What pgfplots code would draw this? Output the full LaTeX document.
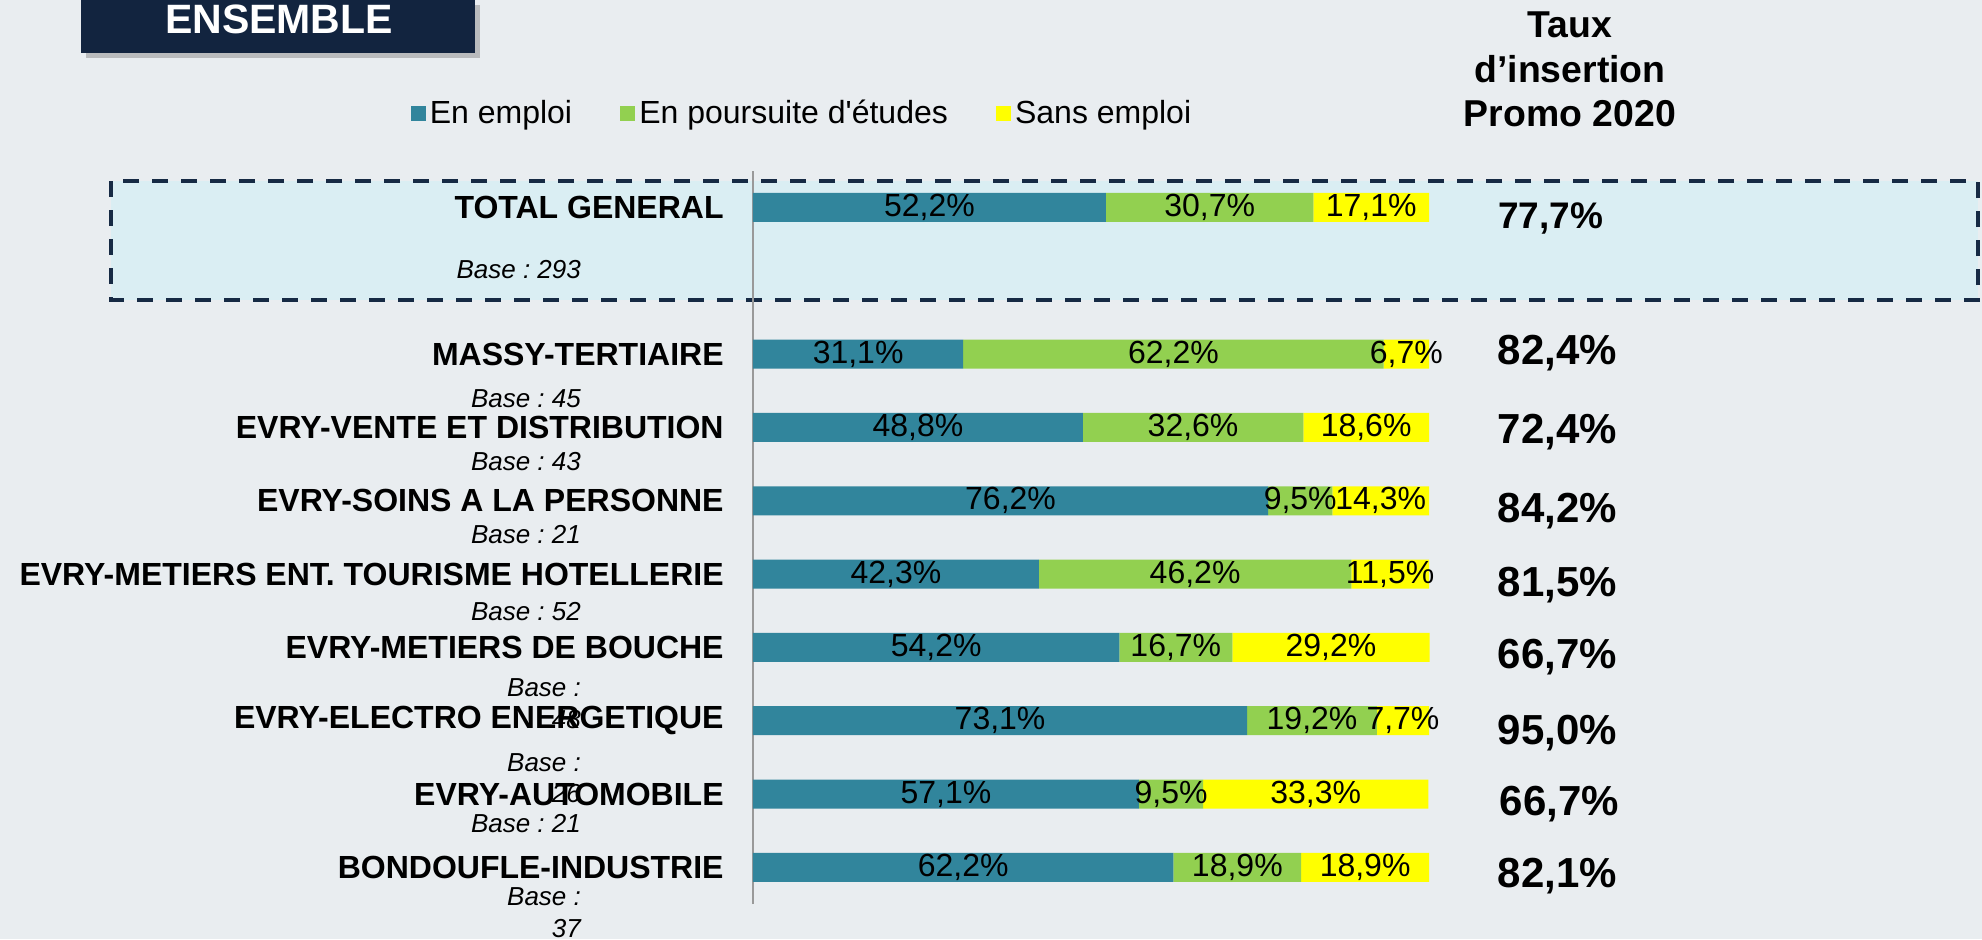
\documentclass[border=0pt]{standalone}
\usepackage{fontspec}
\setmainfont{Liberation Sans}
\usepackage{pgfplots}
\pgfplotsset{compat=1.18}
\usetikzlibrary{shadows}
\frenchspacing

\definecolor{bg}{RGB}{233,237,240}
\definecolor{boxfill}{RGB}{218,238,243}
\definecolor{navy}{RGB}{18,36,63}
\definecolor{dash}{RGB}{22,42,68}
\definecolor{emploi}{RGB}{49,133,156}
\definecolor{etudes}{RGB}{146,208,80}
\definecolor{sans}{RGB}{255,255,0}

\tikzset{
  base/.style={anchor=east, align=right, inner sep=0pt, font=\itshape\fontsize{13}{15.8}\selectfont},
  taux/.style={anchor=center, inner sep=0pt, font=\bfseries\fontsize{21}{24}\selectfont},
}

\begin{document}
\begin{tikzpicture}
% fond
\fill[bg] (0,0) rectangle (991pt,-469.5pt);
% cadre TOTAL
\filldraw[fill=boxfill, draw=dash, line width=2pt, dash pattern=on 8pt off 6.5pt]
  (55.5pt,-90.5pt) rectangle (989pt,-150pt);
% bandeau
\fill[navy, drop shadow={shadow xshift=2.5pt, shadow yshift=-2.5pt, opacity=0.45}]
  (40.5pt,0) rectangle (237.5pt,-26.7pt);
\node[anchor=base, text=white, font=\bfseries\fontsize{20.5}{22}\selectfont, inner sep=0pt]
  at (139.5pt,-16.8pt) {ENSEMBLE};
% en-tete colonne
\node[align=center, font=\bfseries\fontsize{18.7}{22.2}\selectfont, inner sep=0pt]
  at (785pt,-34.8pt) {Taux\\d’insertion\\Promo 2020};

\begin{axis}[
  at={(376.5pt,-452pt)}, anchor=south west,
  xbar stacked,
  scale only axis, width=338pt, height=366.6pt,
  xmin=0, xmax=100, ymin=-0.5, ymax=9.5,
  bar width=14.5pt,
  axis x line=none, axis y line*=left,
  y axis line style={draw=gray!80, line width=1pt},
  ytick={0,1,2,3,4,5,6,7,9},
  yticklabels={BONDOUFLE-INDUSTRIE, EVRY-AUTOMOBILE, EVRY-ELECTRO ENERGETIQUE,
    EVRY-METIERS DE BOUCHE, EVRY-METIERS ENT. TOURISME HOTELLERIE,
    EVRY-SOINS A LA PERSONNE, EVRY-VENTE ET DISTRIBUTION, MASSY-TERTIAIRE, TOTAL GENERAL},
  ytick style={draw=none},
  yticklabel style={font=\bfseries\fontsize{16}{18}\selectfont, anchor=east, inner sep=0pt, xshift=-14.5pt},
  clip=false,
  visualization depends on=rawx \as \rawx,
  nodes near coords={\pgfmathprintnumber{\rawx}\%},
  every node near coord/.append style={anchor=center, text=black, inner sep=0pt,
    font=\fontsize{16}{18}\selectfont},
  legend columns=3,
  legend style={at={(-0.507,1.078)}, anchor=west, draw=none, fill=none, inner sep=0pt,
    font=\fontsize{16}{18}\selectfont,
    /tikz/every even column/.append style={column sep=22pt}},
  legend image code/.code={\fill[#1] (0pt,-3.8pt) rectangle (7.6pt,3.8pt);},
  /pgf/number format/use comma,
  /pgf/number format/fixed,
  /pgf/number format/fixed zerofill,
  /pgf/number format/precision=1,
  /pgf/number format/assume math mode=true,
]
\addplot[fill=emploi, draw=none] coordinates
  {(52.2,9) (31.1,7) (48.8,6) (76.2,5) (42.3,4) (54.2,3) (73.1,2) (57.1,1) (62.2,0)};
\addlegendentry{En emploi}
\addplot[fill=etudes, draw=none] coordinates
  {(30.7,9) (62.2,7) (32.6,6) (9.5,5) (46.2,4) (16.7,3) (19.2,2) (9.5,1) (18.9,0)};
\addlegendentry{En poursuite d\textquotesingle études}
\addplot[fill=sans, draw=none] coordinates
  {(17.1,9) (6.7,7) (18.6,6) (14.3,5) (11.5,4) (29.2,3) (7.7,2) (33.3,1) (18.9,0)};
\addlegendentry{Sans emploi}

% bases
\node[base] at (axis cs:-25.4,8.155) {Base : 293};
\node[base] at (axis cs:-25.4,6.397) {Base : 45};
\node[base] at (axis cs:-25.4,5.534) {Base : 43};
\node[base] at (axis cs:-25.4,4.534) {Base : 21};
\node[base] at (axis cs:-25.4,3.483) {Base : 52};
\node[base] at (axis cs:-25.4,2.233) {Base :\\48};
\node[base] at (axis cs:-25.4,1.216) {Base :\\26};
\node[base] at (axis cs:-25.4,0.603) {Base : 21};
\node[base] at (axis cs:-25.4,-0.615) {Base :\\37};

% taux d'insertion
\node[taux, font=\bfseries\fontsize{18.5}{22}\selectfont] at (axis cs:118,8.845) {77,7\%};
\node[taux] at (axis cs:119,7.017) {82,4\%};
\node[taux] at (axis cs:119,5.93) {72,4\%};
\node[taux] at (axis cs:119,4.862) {84,2\%};
\node[taux] at (axis cs:119,3.845) {81,5\%};
\node[taux] at (axis cs:119,2.862) {66,7\%};
\node[taux] at (axis cs:119,1.828) {95,0\%};
\node[taux] at (axis cs:119.3,0.862) {66,7\%};
\node[taux] at (axis cs:119,-0.12) {82,1\%};
\end{axis}
\pgfresetboundingbox
\useasboundingbox (0,0) rectangle (991pt,-469.5pt);
\end{tikzpicture}
\end{document}
